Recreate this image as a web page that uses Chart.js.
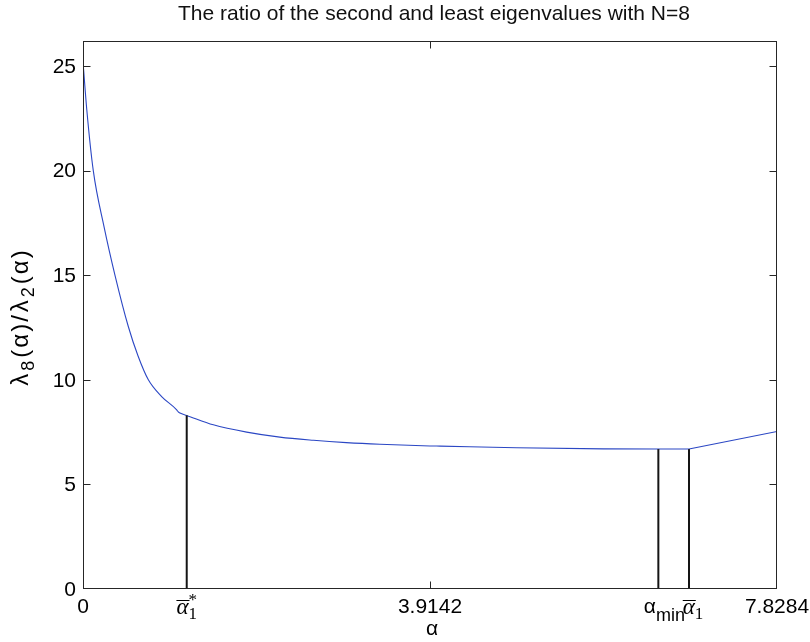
<!DOCTYPE html>
<html><head><meta charset="utf-8">
<script src="https://cdn.jsdelivr.net/npm/chart.js@4/dist/chart.umd.min.js"></script>
<style>html,body{margin:0;padding:0;background:#fff}canvas{display:block}</style>
</head><body>
<canvas id="c" width="810" height="642"></canvas>
<script>
// ---- data ----
const alphaSteep = [0, 0.042, 0.116, 0.237, 0.361, 0.511, 0.62, 0.737, 0.887, 1.057, 1.068];
const ratioSteep = [25.2, 22.95, 20.0, 17.33, 15.0, 12.55, 11.15, 10.0, 9.2, 8.56, 8.49];
const alphaFlat = [1.068, 1.094, 1.17, 1.47, 1.846, 2.22, 2.60, 2.97, 3.35, 3.914, 4.03, 4.89, 5.87, 6.49, 6.836];
const ratioFlat = [8.49, 8.41, 8.30, 7.85, 7.50, 7.26, 7.11, 7.00, 6.92, 6.84, 6.83, 6.75, 6.70, 6.69, 6.69];
const alphaRise = [6.836, 7.8284];
const ratioRise = [6.69, 7.53];
const markerAlphas = [1.17, 6.49, 6.836];
const markerRatios = [8.30, 6.69, 6.69];
const xTickValues = [0, 3.9142, 7.8284];
const xTickLabels = ['0', '3.9142', '7.8284'];
const yTickValues = [0, 5, 10, 15, 20, 25];
const yTickLabels = ['0', '5', '10', '15', '20', '25'];
const titleText = 'The ratio of the second and least eigenvalues with N=8';
const xTitle = 'α';
const xMin = 0, xMax = 7.8284, yMin = 0, yMax = 26.2;

const SANS = '"Liberation Sans", Arial, Helvetica, sans-serif';
const SERIF = '"Liberation Serif", "Times New Roman", serif';
const BLUE = '#2b47c4';

function pts(xs, ys) { return xs.map((x, i) => ({ x: x, y: ys[i] })); }

const datasets = [];
markerAlphas.forEach((a, i) => {
  datasets.push({ data: [{ x: a, y: 0 }, { x: a, y: markerRatios[i] }], borderColor: '#151515', borderWidth: 2, pointRadius: 0, tension: 0 });
});
datasets.push({ data: pts(alphaSteep, ratioSteep), borderColor: BLUE, borderWidth: 1.1, pointRadius: 0, cubicInterpolationMode: 'monotone' });
datasets.push({ data: pts(alphaFlat, ratioFlat), borderColor: BLUE, borderWidth: 1.1, pointRadius: 0, cubicInterpolationMode: 'monotone' });
datasets.push({ data: pts(alphaRise, ratioRise), borderColor: BLUE, borderWidth: 1.1, pointRadius: 0, tension: 0 });

// rich text helper: segments {t, font, style, size, dy, ov, stack, gap}
function fontOf(s) { return (s.style || '') + ' ' + s.size + 'px ' + (s.font || SANS); }
function drawRich(ctx, segs, cx, baseY) {
  const parts = [];
  let x = 0, lastX = 0, lastW = 0;
  segs.forEach(s => {
    ctx.font = fontOf(s);
    const w = ctx.measureText(s.t).width + (s.gap || 0);
    if (s.stack) {
      parts.push({ s, x: lastX, w });
      x += Math.max(0, w - lastW);
    } else {
      parts.push({ s, x, w });
      lastX = x; lastW = w;
      x += w;
    }
  });
  const start = cx - x / 2;
  parts.forEach(p => {
    const s = p.s;
    ctx.font = fontOf(s);
    ctx.fillStyle = '#000';
    ctx.textAlign = 'left';
    ctx.textBaseline = 'alphabetic';
    ctx.fillText(s.t, start + p.x, baseY + (s.dy || 0));
    if (s.ov) {
      ctx.beginPath();
      ctx.strokeStyle = '#000';
      ctx.lineWidth = 1;
      const oy = Math.round(baseY - s.size * 0.62) + 0.5;
      ctx.moveTo(start + p.x, oy);
      ctx.lineTo(start + p.x + p.w + 1, oy);
      ctx.stroke();
    }
  });
}

const decor = {
  id: 'decor',
  afterDraw(chart) {
    const ctx = chart.ctx, a = chart.chartArea;
    const xs = chart.scales.x, ys = chart.scales.y;
    const L = Math.round(a.left) + 0.5, R = Math.round(a.right) - 0.5;
    const T = Math.round(a.top) + 0.5, B = Math.round(a.bottom) - 0.5;
    ctx.save();
    ctx.strokeStyle = '#262626';
    ctx.lineWidth = 1;
    ctx.strokeRect(L, T, R - L, B - T);
    const TL = 7;
    ctx.beginPath();
    yTickValues.forEach(v => {
      if (v === yMin) return;
      const py = Math.round(ys.getPixelForValue(v)) + 0.5;
      ctx.moveTo(L, py); ctx.lineTo(L + TL, py);
      ctx.moveTo(R, py); ctx.lineTo(R - TL, py);
    });
    xTickValues.forEach(v => {
      if (v === xMin || v === xMax) return;
      const px = Math.round(xs.getPixelForValue(v)) + 0.5;
      ctx.moveTo(px, B); ctx.lineTo(px, B - TL);
      ctx.moveTo(px, T); ctx.lineTo(px, T + TL);
    });
    ctx.stroke();
    // y tick labels
    ctx.fillStyle = '#000';
    ctx.font = '21px ' + SANS;
    ctx.textAlign = 'right';
    ctx.textBaseline = 'middle';
    yTickValues.forEach((v, i) => {
      ctx.fillText(yTickLabels[i], a.left - 7, ys.getPixelForValue(v) + 1);
    });
    // x tick labels
    const base = a.bottom + 24;
    xTickValues.forEach((v, i) => {
      ctx.font = '21px ' + SANS;
      ctx.fillStyle = '#000';
      ctx.textAlign = 'center';
      ctx.textBaseline = 'alphabetic';
      ctx.fillText(xTickLabels[i], xs.getPixelForValue(v), base);
    });
    // special labels
    drawRich(ctx, [
      { t: 'α', font: SERIF, style: 'italic', size: 23, ov: true },
      { t: '1', font: SERIF, size: 17, dy: 5 },
      { t: '*', font: SERIF, size: 17, dy: -9, stack: true }
    ], xs.getPixelForValue(markerAlphas[0]), base + 1);
    drawRich(ctx, [
      { t: 'α', size: 21 },
      { t: 'min', size: 18, dy: 8 }
    ], xs.getPixelForValue(markerAlphas[1]) + 6, base);
    drawRich(ctx, [
      { t: 'α', font: SERIF, style: 'italic', size: 23, ov: true },
      { t: '1', font: SERIF, size: 17, dy: 5 }
    ], xs.getPixelForValue(markerAlphas[2]) + 4, base + 1);
    // x axis title
    ctx.fillStyle = '#000';
    ctx.font = '21px ' + SANS;
    ctx.textAlign = 'center';
    ctx.textBaseline = 'alphabetic';
    ctx.fillText(xTitle, (a.left + a.right) / 2 + 2, a.bottom + 46);
    // title
    ctx.font = '21px ' + SANS;
    ctx.fillStyle = '#111';
    ctx.textBaseline = 'middle';
    ctx.fillText(titleText, (a.left + a.right) / 2 + 4, 14);
    // y title rotated
    ctx.save();
    ctx.translate(28, (a.top + a.bottom) / 2 + 3);
    ctx.rotate(-Math.PI / 2);
    drawRich(ctx, [
      { t: 'λ', size: 24, gap: 3 }, { t: '8', size: 18, dy: 6, gap: 3 },
      { t: '(', size: 24, gap: 2 }, { t: 'α', size: 24, gap: 2 }, { t: ')', size: 24, gap: 2 }, { t: '/', size: 24, gap: 3 },
      { t: 'λ', size: 24, gap: 3 }, { t: '2', size: 18, dy: 6, gap: 3 },
      { t: '(', size: 24, gap: 2 }, { t: 'α', size: 24, gap: 2 }, { t: ')', size: 24 }
    ], 0, 0);
    ctx.restore();
    ctx.restore();
  }
};

new Chart(document.getElementById('c'), {
  type: 'line',
  data: { datasets: datasets },
  options: {
    responsive: false,
    animation: false,
    layout: { padding: { left: 83, right: 33, top: 41, bottom: 53 } },
    plugins: { legend: { display: false }, tooltip: { enabled: false }, title: { display: false } },
    scales: {
      x: { type: 'linear', min: xMin, max: xMax, display: false },
      y: { type: 'linear', min: yMin, max: yMax, display: false }
    }
  },
  plugins: [decor]
});
</script>
</body></html>
